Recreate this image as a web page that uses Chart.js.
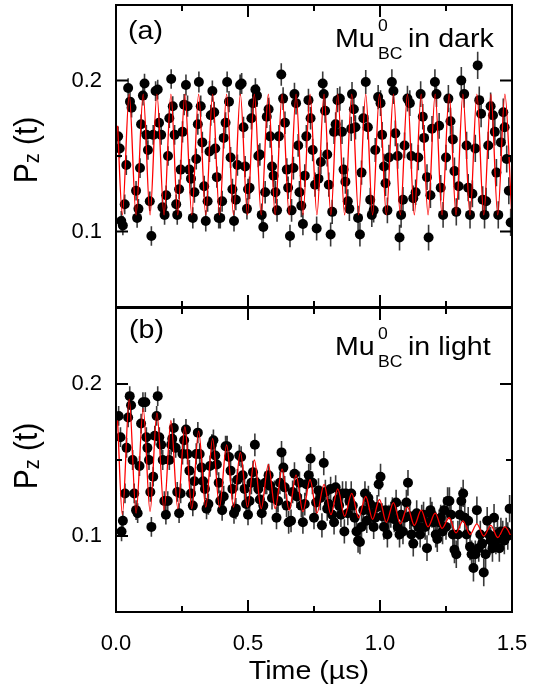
<!DOCTYPE html>
<html>
<head>
<meta charset="utf-8">
<script src="https://cdn.jsdelivr.net/npm/chart.js@4.4.1/dist/chart.umd.min.js"></script>
<style>
  body { margin: 0; background: #fff; }
  #wrap { position: relative; width: 540px; height: 685px; overflow: hidden;
          font-family: "Liberation Sans", Arial, sans-serif; color: #000; }
  canvas { position: absolute; left: 0; }
  #panelA { top: 0; }
  #panelB { top: 300px; }
  .note { position: absolute; font-size: 26px; line-height: 26px; white-space: nowrap;
          transform: scaleX(1.1); transform-origin: left center; }
  .small { position: absolute; font-size: 16px; line-height: 16px; white-space: nowrap;
           transform: scaleX(1.1); transform-origin: left center; }
  .ytitle { position: absolute; font-size: 30px; line-height: 30px; white-space: nowrap;
            transform: translate(-50%, -50%) scaleX(1.1) rotate(-90deg); }
  .ytitle span { font-size: 20px; vertical-align: -2px; }
  #xtitle { position: absolute; font-size: 26px; line-height: 26px; white-space: nowrap;
            transform: translateX(-50%) scaleX(1.1); }
</style>
</head>
<body>
<div id="wrap">
  <canvas id="panelA" width="540" height="312"></canvas>
  <canvas id="panelB" width="540" height="385"></canvas>

  <div class="note" style="left:128px;top:17px">(a)</div>
  <div class="note" style="left:335px;top:25px">Mu</div>
  <div class="small" style="left:378px;top:18px">0</div>
  <div class="small" style="left:378px;top:46px">BC</div>
  <div class="note" style="left:408px;top:25px">in dark</div>

  <div class="note" style="left:129px;top:316px">(b)</div>
  <div class="note" style="left:335px;top:333px">Mu</div>
  <div class="small" style="left:378px;top:326px">0</div>
  <div class="small" style="left:378px;top:354px">BC</div>
  <div class="note" style="left:408px;top:333px">in light</div>

  <div class="ytitle" style="left:28.5px;top:150px">P<span>z</span> (t)</div>
  <div class="ytitle" style="left:28.5px;top:456px">P<span>z</span> (t)</div>
  <div id="xtitle" style="left:309px;top:657px">Time (&micro;s)</div>
</div>
<script>
  // data points, panel (a): Mu_BC in dark
  const darkT = [
    0.008, 0.014, 0.020, 0.026, 0.033, 0.039, 0.046, 0.053, 0.059, 0.076,
    0.080, 0.085, 0.091, 0.095, 0.102, 0.108, 0.115, 0.121, 0.128, 0.134,
    0.141, 0.150, 0.158, 0.163, 0.171, 0.176, 0.184, 0.190, 0.197, 0.202,
    0.209, 0.215, 0.222, 0.228, 0.232, 0.239, 0.245, 0.252, 0.258, 0.265,
    0.271, 0.278, 0.284, 0.291, 0.297, 0.304, 0.310, 0.314, 0.321, 0.327,
    0.334, 0.340, 0.347, 0.354, 0.359, 0.365, 0.372, 0.376, 0.382, 0.389,
    0.395, 0.402, 0.408, 0.415, 0.421, 0.428, 0.434, 0.441, 0.447, 0.454,
    0.460, 0.470, 0.476, 0.483, 0.489, 0.496, 0.500, 0.506, 0.513, 0.519,
    0.528, 0.534, 0.539, 0.545, 0.552, 0.558, 0.565, 0.571, 0.578, 0.584,
    0.591, 0.597, 0.604, 0.610, 0.617, 0.626, 0.633, 0.640, 0.647, 0.652,
    0.659, 0.665, 0.672, 0.676, 0.682, 0.690, 0.695, 0.702, 0.708, 0.715,
    0.721, 0.729, 0.737, 0.745, 0.754, 0.760, 0.767, 0.776, 0.783, 0.787,
    0.792, 0.800, 0.806, 0.813, 0.819, 0.826, 0.832, 0.839, 0.848, 0.856,
    0.862, 0.869, 0.878, 0.884, 0.891, 0.894, 0.901, 0.907, 0.917, 0.924,
    0.930, 0.937, 0.946, 0.954, 0.963, 0.969, 0.976, 0.982, 0.993, 1.002,
    1.008, 1.015, 1.021, 1.028, 1.034, 1.045, 1.051, 1.058, 1.067, 1.074,
    1.080, 1.087, 1.093, 1.104, 1.113, 1.119, 1.126, 1.135, 1.145, 1.154,
    1.162, 1.167, 1.178, 1.184, 1.191, 1.197, 1.208, 1.214, 1.224, 1.230,
    1.239, 1.250, 1.259, 1.267, 1.276, 1.282, 1.289, 1.298, 1.308, 1.319,
    1.328, 1.334, 1.341, 1.350, 1.361, 1.370, 1.376, 1.383, 1.389, 1.396,
    1.402, 1.410, 1.419, 1.428, 1.435, 1.441, 1.448, 1.458, 1.467, 1.472,
    1.480, 1.488, 1.495
  ];
  const darkP = [
    0.163, 0.155, 0.107, 0.104, 0.118, 0.144, 0.195, 0.186, 0.182, 0.127,
    0.109, 0.115, 0.142, 0.171, 0.190, 0.198, 0.164, 0.154, 0.120, 0.097,
    0.164, 0.193, 0.194, 0.172, 0.164, 0.116, 0.111, 0.124, 0.150, 0.175,
    0.201, 0.183, 0.164, 0.118, 0.111, 0.128, 0.141, 0.166, 0.184, 0.197,
    0.183, 0.141, 0.135, 0.109, 0.126, 0.148, 0.171, 0.199, 0.183, 0.159,
    0.130, 0.107, 0.120, 0.153, 0.177, 0.193, 0.179, 0.155, 0.136, 0.109,
    0.109, 0.120, 0.162, 0.172, 0.199, 0.186, 0.149, 0.128, 0.107, 0.121,
    0.144, 0.197, 0.198, 0.169, 0.143, 0.115, 0.128, 0.129, 0.175, 0.185,
    0.194, 0.190, 0.150, 0.151, 0.111, 0.103, 0.126, 0.176, 0.181, 0.163,
    0.143, 0.137, 0.126, 0.114, 0.163, 0.204, 0.188, 0.172, 0.141, 0.129,
    0.097, 0.114, 0.142, 0.191, 0.185, 0.157, 0.126, 0.117, 0.105, 0.137,
    0.163, 0.187, 0.175, 0.154, 0.131, 0.102, 0.135, 0.146, 0.198, 0.191,
    0.180, 0.151, 0.131, 0.098, 0.113, 0.166, 0.171, 0.187, 0.188, 0.166,
    0.141, 0.133, 0.120, 0.115, 0.168, 0.191, 0.181, 0.169, 0.109, 0.098,
    0.139, 0.175, 0.199, 0.169, 0.121, 0.111, 0.114, 0.154, 0.189, 0.185,
    0.164, 0.143, 0.132, 0.114, 0.149, 0.199, 0.193, 0.165, 0.150, 0.096,
    0.111, 0.121, 0.157, 0.188, 0.185, 0.150, 0.122, 0.126, 0.149, 0.191,
    0.176, 0.162, 0.136, 0.096, 0.124, 0.168, 0.199, 0.191, 0.170, 0.129,
    0.111, 0.149, 0.188, 0.173, 0.161, 0.140, 0.113, 0.130, 0.200, 0.191,
    0.157, 0.129, 0.111, 0.125, 0.155, 0.210, 0.187, 0.178, 0.121, 0.111,
    0.120, 0.157, 0.183, 0.177, 0.166, 0.139, 0.111, 0.159, 0.179, 0.169,
    0.148, 0.127, 0.106
  ];

  // data points, panel (b): Mu_BC in light
  const lightT = [
    0.010, 0.017, 0.021, 0.026, 0.034, 0.040, 0.046, 0.052, 0.057, 0.063,
    0.069, 0.076, 0.082, 0.089, 0.095, 0.102, 0.111, 0.115, 0.119, 0.125,
    0.130, 0.134, 0.141, 0.147, 0.154, 0.158, 0.164, 0.171, 0.177, 0.183,
    0.189, 0.196, 0.202, 0.209, 0.213, 0.219, 0.226, 0.232, 0.239, 0.245,
    0.252, 0.258, 0.265, 0.271, 0.278, 0.284, 0.291, 0.297, 0.304, 0.310,
    0.317, 0.324, 0.330, 0.337, 0.343, 0.350, 0.356, 0.363, 0.369, 0.376,
    0.382, 0.389, 0.395, 0.402, 0.408, 0.415, 0.421, 0.428, 0.434, 0.441,
    0.447, 0.454, 0.460, 0.467, 0.474, 0.480, 0.487, 0.493, 0.500, 0.506,
    0.513, 0.519, 0.526, 0.532, 0.539, 0.545, 0.552, 0.558, 0.565, 0.571,
    0.578, 0.584, 0.591, 0.600, 0.608, 0.614, 0.621, 0.627, 0.634, 0.639,
    0.646, 0.654, 0.663, 0.669, 0.676, 0.685, 0.695, 0.702, 0.708, 0.715,
    0.721, 0.730, 0.737, 0.744, 0.750, 0.758, 0.767, 0.774, 0.780, 0.787,
    0.793, 0.800, 0.806, 0.813, 0.819, 0.826, 0.832, 0.839, 0.845, 0.852,
    0.858, 0.865, 0.871, 0.878, 0.884, 0.891, 0.897, 0.904, 0.911, 0.917,
    0.924, 0.930, 0.937, 0.943, 0.950, 0.956, 0.963, 0.969, 0.976, 0.982,
    0.989, 0.995, 1.002, 1.008, 1.015, 1.021, 1.028, 1.034, 1.041, 1.047,
    1.054, 1.061, 1.067, 1.074, 1.080, 1.087, 1.093, 1.100, 1.106, 1.113,
    1.119, 1.126, 1.132, 1.139, 1.145, 1.152, 1.158, 1.165, 1.171, 1.178,
    1.184, 1.191, 1.197, 1.204, 1.211, 1.217, 1.224, 1.230, 1.237, 1.243,
    1.250, 1.256, 1.263, 1.269, 1.276, 1.282, 1.289, 1.295, 1.302, 1.308,
    1.315, 1.321, 1.328, 1.334, 1.341, 1.347, 1.354, 1.361, 1.367, 1.374,
    1.380, 1.387, 1.393, 1.400, 1.406, 1.413, 1.419, 1.426, 1.432, 1.439,
    1.445, 1.452, 1.458, 1.465, 1.471, 1.478, 1.484, 1.491
  ];
  const lightP = [
    0.179, 0.165, 0.103, 0.110, 0.128, 0.158, 0.178, 0.192, 0.186, 0.150,
    0.128, 0.117, 0.115, 0.146, 0.174, 0.188, 0.188, 0.165, 0.158, 0.150,
    0.129, 0.106, 0.139, 0.166, 0.179, 0.192, 0.165, 0.160, 0.150, 0.123,
    0.114, 0.123, 0.150, 0.160, 0.164, 0.171, 0.158, 0.129, 0.115, 0.128,
    0.154, 0.163, 0.170, 0.154, 0.143, 0.128, 0.120, 0.136, 0.154, 0.168,
    0.154, 0.145, 0.136, 0.131, 0.118, 0.121, 0.146, 0.160, 0.163, 0.153,
    0.147, 0.135, 0.123, 0.117, 0.126, 0.159, 0.159, 0.152, 0.143, 0.131,
    0.115, 0.118, 0.137, 0.153, 0.152, 0.140, 0.131, 0.121, 0.114, 0.123,
    0.135, 0.142, 0.160, 0.135, 0.131, 0.124, 0.115, 0.120, 0.135, 0.135,
    0.140, 0.133, 0.125, 0.129, 0.112, 0.123, 0.135, 0.155, 0.145, 0.132,
    0.120, 0.109, 0.110, 0.129, 0.141, 0.126, 0.135, 0.120, 0.109, 0.121,
    0.134, 0.140, 0.151, 0.135, 0.112, 0.122, 0.130, 0.125, 0.107, 0.148,
    0.129, 0.118, 0.121, 0.131, 0.114, 0.109, 0.132, 0.124, 0.120, 0.114,
    0.128, 0.103, 0.128, 0.115, 0.123, 0.128, 0.120, 0.112, 0.103, 0.097,
    0.096, 0.106, 0.117, 0.128, 0.110, 0.125, 0.121, 0.115, 0.106, 0.112,
    0.119, 0.134, 0.139, 0.113, 0.106, 0.117, 0.101, 0.112, 0.114, 0.117,
    0.111, 0.122, 0.106, 0.101, 0.114, 0.103, 0.112, 0.122, 0.135, 0.113,
    0.101, 0.095, 0.109, 0.115, 0.106, 0.101, 0.112, 0.114, 0.106, 0.092,
    0.109, 0.117, 0.114, 0.109, 0.101, 0.098, 0.109, 0.112, 0.103, 0.117,
    0.106, 0.123, 0.123, 0.114, 0.101, 0.091, 0.088, 0.101, 0.114, 0.123,
    0.128, 0.112, 0.101, 0.110, 0.093, 0.088, 0.079, 0.088, 0.117, 0.092,
    0.101, 0.095, 0.076, 0.088, 0.110, 0.101, 0.097, 0.092, 0.112, 0.097,
    0.101, 0.092, 0.103, 0.101, 0.097, 0.103, 0.100, 0.118
  ];

  // fitted curves: turning points
  const fitT = [
    0.006, 0.024, 0.050, 0.076, 0.103, 0.129, 0.155, 0.182, 0.208, 0.234,
    0.261, 0.287, 0.313, 0.340, 0.366, 0.392, 0.419, 0.445, 0.471, 0.498,
    0.524, 0.550, 0.577, 0.603, 0.629, 0.656, 0.682, 0.708, 0.735, 0.761,
    0.788, 0.814, 0.840, 0.866, 0.893, 0.919, 0.946, 0.972, 0.998, 1.024,
    1.051, 1.077, 1.104, 1.130, 1.156, 1.182, 1.209, 1.235, 1.262, 1.288,
    1.314, 1.341, 1.367, 1.393, 1.420, 1.446, 1.473, 1.499
  ];
  const fitDark = [
    0.170, 0.111, 0.191, 0.111, 0.191, 0.111, 0.191, 0.111, 0.191, 0.111,
    0.191, 0.111, 0.191, 0.111, 0.191, 0.111, 0.191, 0.111, 0.191, 0.111,
    0.191, 0.111, 0.191, 0.111, 0.191, 0.111, 0.191, 0.111, 0.191, 0.111,
    0.191, 0.111, 0.191, 0.111, 0.191, 0.111, 0.191, 0.111, 0.191, 0.111,
    0.191, 0.111, 0.191, 0.111, 0.191, 0.111, 0.191, 0.111, 0.191, 0.111,
    0.191, 0.111, 0.191, 0.111, 0.191, 0.111, 0.191, 0.111
  ];
  const fitLight = [
    0.176, 0.114, 0.190, 0.115, 0.184, 0.116, 0.181, 0.117, 0.176, 0.118,
    0.172, 0.118, 0.169, 0.119, 0.164, 0.119, 0.160, 0.119, 0.155, 0.119,
    0.150, 0.118, 0.147, 0.118, 0.144, 0.117, 0.140, 0.116, 0.137, 0.115,
    0.134, 0.114, 0.131, 0.113, 0.128, 0.112, 0.126, 0.111, 0.124, 0.109,
    0.122, 0.108, 0.119, 0.107, 0.117, 0.106, 0.115, 0.105, 0.112, 0.102,
    0.110, 0.101, 0.108, 0.100, 0.107, 0.099, 0.106, 0.099
  ];

  // error bar half-heights by time range
  const errEdges = [0.25, 0.5, 0.75, 1.0, 1.25, 1.5];
  const errSize = [0.0065, 0.007, 0.0075, 0.008, 0.0085, 0.009];

  const xMajor = [0, 0.5, 1.0, 1.5];
  const xMinor = [0.25, 0.75, 1.25];
  const yMajor = [0.1, 0.2];
  const yMinor = [0.15];

  const FONT = "'Liberation Sans', Arial, sans-serif";

  function errorAt(t) {
    for (let i = 0; i < errEdges.length; i++) {
      if (t <= errEdges[i]) return errSize[i];
    }
    return errSize[errSize.length - 1];
  }

  const errorBars = {
    id: "errorBars",
    beforeDatasetsDraw(chart) {
      const { ctx, chartArea: a, scales: { x, y } } = chart;
      const ds = chart.data.datasets[1];
      ctx.save();
      ctx.beginPath();
      ctx.rect(a.left, a.top, a.right - a.left, a.bottom - a.top);
      ctx.clip();
      ctx.strokeStyle = "#3a3a3a";
      ctx.lineWidth = 1.6;
      ctx.beginPath();
      ds.data.forEach((p) => {
        const e = errorAt(p.x);
        const px = x.getPixelForValue(p.x);
        ctx.moveTo(px, y.getPixelForValue(p.y + e));
        ctx.lineTo(px, y.getPixelForValue(p.y - e));
      });
      ctx.stroke();
      ctx.restore();
    },
  };

  // box frame with inward ticks on all four sides
  const frameTicks = {
    id: "frameTicks",
    afterDraw(chart) {
      const { ctx, chartArea: a, scales: { x, y } } = chart;
      ctx.save();
      ctx.strokeStyle = "#000";
      ctx.lineWidth = 2;
      ctx.beginPath();
      const xTick = (v, len) => {
        const px = x.getPixelForValue(v);
        ctx.moveTo(px, a.bottom);
        ctx.lineTo(px, a.bottom - len);
        ctx.moveTo(px, a.top);
        ctx.lineTo(px, a.top + len);
      };
      const yTick = (v, len) => {
        const py = y.getPixelForValue(v);
        ctx.moveTo(a.left, py);
        ctx.lineTo(a.left + len, py);
        ctx.moveTo(a.right, py);
        ctx.lineTo(a.right - len, py);
      };
      xMajor.forEach((v) => xTick(v, 12));
      xMinor.forEach((v) => xTick(v, 6));
      yMajor.forEach((v) => yTick(v, 12));
      yMinor.forEach((v) => yTick(v, 6));
      ctx.stroke();
      ctx.strokeRect(a.left, a.top, a.right - a.left, a.bottom - a.top);
      ctx.restore();
    },
  };

  function makePanel(canvasId, ptsT, ptsP, fitP, showX, padTop, padBottom) {
    return new Chart(document.getElementById(canvasId), {
      type: "line",
      data: {
        datasets: [
          {
            data: fitT.map((t, i) => ({ x: t, y: fitP[i] })),
            borderColor: "#ff0000",
            borderWidth: 1.3,
            pointRadius: 0,
            cubicInterpolationMode: "monotone",
            order: 0,
          },
          {
            data: ptsT.map((t, i) => ({ x: t, y: ptsP[i] })),
            showLine: false,
            pointRadius: 5,
            pointBackgroundColor: "#000",
            pointBorderWidth: 0,
            order: 1,
          },
        ],
      },
      options: {
        responsive: false,
        animation: false,
        events: [],
        layout: { padding: { top: padTop, right: 28, bottom: padBottom, left: 0 } },
        plugins: { legend: { display: false }, tooltip: { enabled: false } },
        scales: {
          x: {
            type: "linear",
            min: 0,
            max: 1.5,
            display: showX,
            grid: { display: false, drawTicks: false },
            border: { display: false },
            afterFit: (s) => {
              s.height = showX ? 73 : 0;
              s.paddingLeft = 0;
              s.paddingRight = 0;
            },
            ticks: {
              stepSize: 0.25,
              autoSkip: false,
              maxRotation: 0,
              padding: 19,
              color: "#000",
              font: { family: FONT, size: 22 },
              callback: (v) => (Math.abs(v * 2 - Math.round(v * 2)) < 1e-6 ? v.toFixed(1) : ""),
            },
          },
          y: {
            min: 0.05,
            max: 0.25,
            grid: { display: false, drawTicks: false },
            border: { display: false },
            afterFit: (s) => {
              s.width = 116;
              s.paddingTop = 0;
              s.paddingBottom = 0;
            },
            ticks: {
              stepSize: 0.05,
              padding: 14,
              color: "#000",
              font: { family: FONT, size: 22 },
              callback: (v) => {
                const r = Math.round(v * 100);
                return r === 10 || r === 20 ? (r / 100).toFixed(1) : "";
              },
            },
          },
        },
      },
      plugins: [errorBars, frameTicks],
    });
  }

  makePanel("panelA", darkT, darkP, fitDark, false, 5, 4);
  makePanel("panelB", lightT, lightP, fitLight, true, 8, 0);
</script>
</body>
</html>
